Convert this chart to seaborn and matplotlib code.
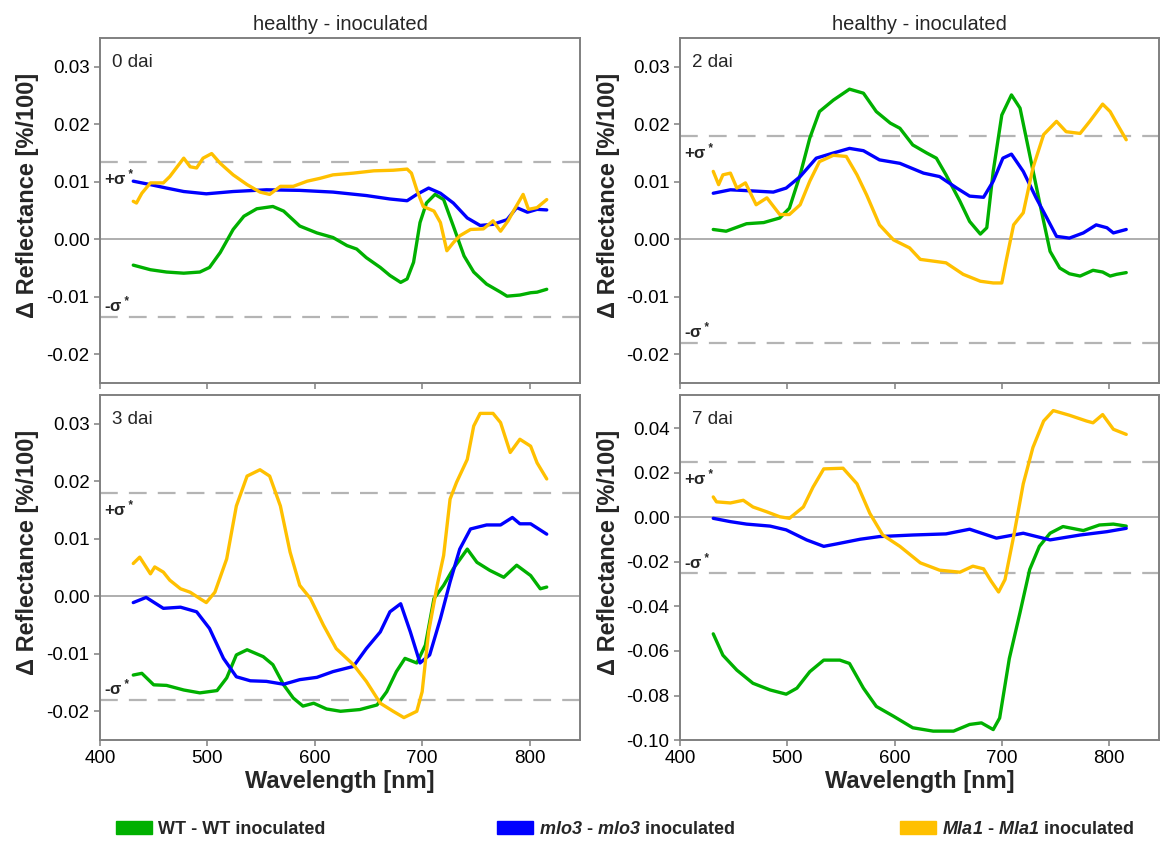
import pandas as pd
import numpy as np
import matplotlib
matplotlib.use("Agg")
import matplotlib.pyplot as plt
import seaborn as sns
from matplotlib.patches import Patch

# ---- datos (longitud de onda nm, delta reflectancia) ----
# 0 dai
wl_0_wt = [431, 447, 462, 478, 493, 502, 512, 524, 534, 546, 561, 571, 586, 602, 617, 630, 639, 648, 661, 670,
           680, 686, 692, 698, 704, 712, 720, 729, 739, 748, 760, 773, 779, 791, 801, 807, 816]
r_0_wt = [-0.0045, -0.0053, -0.0057, -0.0059, -0.0057, -0.0049, -0.0023, 0.0017, 0.0040, 0.0053, 0.0057, 0.0049,
          0.0023, 0.0011, 0.0003, -0.0011, -0.0017, -0.0032, -0.0049, -0.0063, -0.0075, -0.0069, -0.0040, 0.0029,
          0.0063, 0.0078, 0.0069, 0.0023, -0.0029, -0.0057, -0.0078, -0.0092, -0.0099, -0.0097, -0.0093, -0.0092, -0.0087]
wl_0_mlo = [431, 447, 462, 478, 499, 524, 555, 586, 617, 648, 670, 686, 695, 706, 717, 729, 742, 754, 766, 779,
            788, 798, 807, 816]
r_0_mlo = [0.0101, 0.0095, 0.0089, 0.0083, 0.0079, 0.0083, 0.0086, 0.0085, 0.0082, 0.0076, 0.0070, 0.0067, 0.0078,
           0.0089, 0.0080, 0.0063, 0.0037, 0.0024, 0.0026, 0.0034, 0.0055, 0.0047, 0.0052, 0.0051]
wl_0_mla = [431, 434, 439, 447, 459, 465, 478, 484, 490, 496, 504, 512, 524, 537, 549, 558, 568, 580, 593, 605,
            617, 636, 655, 673, 686, 690, 695, 701, 711, 717, 723, 729, 735, 745, 757, 766, 773, 780, 785, 794,
            799, 807, 816]
r_0_mla = [0.0066, 0.0063, 0.0080, 0.0098, 0.0098, 0.0109, 0.0141, 0.0126, 0.0124, 0.0141, 0.0149, 0.0132, 0.0112,
           0.0095, 0.0082, 0.0078, 0.0092, 0.0092, 0.0101, 0.0106, 0.0112, 0.0115, 0.0119, 0.0120, 0.0122, 0.0115,
           0.0086, 0.0057, 0.0049, 0.0029, -0.0020, -0.0006, 0.0006, 0.0017, 0.0018, 0.0032, 0.0014, 0.0032, 0.0049,
           0.0078, 0.0052, 0.0055, 0.0069]

# 2 dai
wl_2_wt = [431, 443, 462, 478, 493, 502, 512, 521, 530, 543, 558, 571, 583, 596, 605, 617, 630, 639, 648, 661,
           670, 680, 686, 692, 700, 709, 717, 726, 735, 745, 754, 763, 773, 785, 794, 801, 807, 816]
r_2_wt = [0.0017, 0.0014, 0.0027, 0.0029, 0.0037, 0.0054, 0.0112, 0.0176, 0.0222, 0.0242, 0.0261, 0.0254, 0.0222,
          0.0202, 0.0193, 0.0164, 0.0150, 0.0141, 0.0112, 0.0066, 0.0031, 0.0009, 0.0020, 0.0118, 0.0216, 0.0251,
          0.0228, 0.0147, 0.0066, -0.0021, -0.0050, -0.0060, -0.0064, -0.0054, -0.0057, -0.0064, -0.0061, -0.0058]
wl_2_mlo = [431, 447, 468, 487, 499, 512, 527, 543, 558, 571, 586, 605, 627, 642, 658, 670, 683, 692, 701, 709,
            720, 732, 742, 751, 763, 776, 788, 798, 804, 816]
r_2_mlo = [0.0080, 0.0086, 0.0084, 0.0082, 0.0089, 0.0109, 0.0141, 0.0150, 0.0158, 0.0154, 0.0138, 0.0132, 0.0115,
           0.0109, 0.0089, 0.0075, 0.0073, 0.0101, 0.0141, 0.0148, 0.0118, 0.0072, 0.0037, 0.0005, 0.0002, 0.0011,
           0.0025, 0.0020, 0.0011, 0.0017]
wl_2_mla = [431, 436, 440, 447, 453, 461, 471, 481, 493, 502, 512, 521, 530, 543, 555, 565, 574, 586, 599, 614,
            624, 636, 648, 664, 680, 692, 700, 704, 711, 720, 729, 739, 751, 760, 773, 782, 794, 801, 807, 816]
r_2_mla = [0.0118, 0.0095, 0.0112, 0.0115, 0.0089, 0.0098, 0.0060, 0.0072, 0.0043, 0.0043, 0.0060, 0.0101, 0.0135,
           0.0146, 0.0144, 0.0112, 0.0077, 0.0025, -0.0001, -0.0015, -0.0035, -0.0038, -0.0041, -0.0061, -0.0073,
           -0.0076, -0.0076, -0.0038, 0.0025, 0.0046, 0.0124, 0.0182, 0.0205, 0.0187, 0.0184, 0.0205, 0.0235, 0.0222,
           0.0202, 0.0173]

# 3 dai
wl_3_wt = [431, 439, 450, 462, 478, 493, 509, 518, 527, 537, 552, 561, 571, 580, 589, 599, 611, 624, 642, 658,
           667, 676, 684, 695, 703, 711, 720, 729, 742, 751, 763, 776, 788, 801, 810, 816]
r_3_wt = [-0.0137, -0.0134, -0.0154, -0.0155, -0.0163, -0.0168, -0.0164, -0.0142, -0.0102, -0.0093, -0.0105,
          -0.0119, -0.0154, -0.0177, -0.0191, -0.0186, -0.0196, -0.0200, -0.0197, -0.0189, -0.0166, -0.0131,
          -0.0108, -0.0116, -0.0085, -0.0004, 0.0019, 0.0048, 0.0082, 0.0059, 0.0045, 0.0033, 0.0054, 0.0036,
          0.0013, 0.0016]
wl_3_mlo = [431, 443, 459, 475, 490, 502, 515, 527, 540, 555, 571, 586, 602, 617, 636, 648, 661, 670, 680, 689,
            698, 707, 717, 726, 735, 745, 760, 773, 784, 791, 801, 816]
r_3_mlo = [-0.0011, -0.0002, -0.0021, -0.0019, -0.0027, -0.0056, -0.0108, -0.0140, -0.0147, -0.0148, -0.0153,
           -0.0145, -0.0141, -0.0131, -0.0122, -0.0091, -0.0062, -0.0027, -0.0013, -0.0062, -0.0116, -0.0102,
           -0.0039, 0.0025, 0.0082, 0.0117, 0.0124, 0.0124, 0.0137, 0.0126, 0.0126, 0.0108]
wl_3_mla = [431, 437, 447, 451, 459, 465, 475, 484, 493, 499, 507, 518, 527, 537, 549, 558, 568, 577, 586, 596,
            608, 620, 636, 648, 661, 673, 683, 695, 700, 706, 714, 720, 726, 732, 742, 748, 754, 766, 773, 782,
            791, 801, 807, 816]
r_3_mla = [0.0057, 0.0068, 0.0039, 0.0051, 0.0042, 0.0028, 0.0013, 0.0007, -0.0004, -0.0011, 0.0007, 0.0065,
           0.0157, 0.0209, 0.0220, 0.0209, 0.0157, 0.0077, 0.0019, -0.0004, -0.0050, -0.0091, -0.0119, -0.0148,
           -0.0186, -0.0200, -0.0211, -0.0200, -0.0166, -0.0062, 0.0019, 0.0071, 0.0169, 0.0198, 0.0238, 0.0296,
           0.0318, 0.0318, 0.0302, 0.0250, 0.0273, 0.0261, 0.0232, 0.0204]

# 7 dai
wl_7_wt = [431, 440, 453, 468, 484, 499, 509, 521, 534, 549, 558, 571, 583, 599, 617, 636, 655, 670, 681, 692,
           698, 707, 717, 726, 735, 745, 757, 776, 791, 804, 816]
r_7_wt = [-0.0523, -0.0619, -0.0686, -0.0745, -0.0775, -0.0794, -0.0767, -0.0693, -0.0641, -0.0641, -0.0656,
          -0.0767, -0.0849, -0.0893, -0.0945, -0.0960, -0.0960, -0.0930, -0.0923, -0.0953, -0.0901, -0.0634,
          -0.0427, -0.0234, -0.0130, -0.0071, -0.0041, -0.0059, -0.0034, -0.0030, -0.0039]
wl_7_mlo = [431, 447, 462, 484, 499, 518, 534, 546, 568, 586, 617, 648, 670, 695, 720, 745, 773, 798, 816]
r_7_mlo = [-0.0004, -0.0019, -0.0030, -0.0039, -0.0056, -0.0101, -0.0130, -0.0119, -0.0098, -0.0086, -0.0079,
           -0.0074, -0.0053, -0.0093, -0.0071, -0.0101, -0.0079, -0.0064, -0.0049]
wl_7_mla = [431, 434, 447, 459, 468, 481, 493, 502, 515, 524, 534, 552, 565, 577, 589, 605, 624, 642, 661, 673,
            683, 690, 697, 703, 711, 720, 729, 739, 748, 763, 779, 785, 794, 804, 816]
r_7_mla = [0.0092, 0.0070, 0.0065, 0.0077, 0.0047, 0.0025, 0.0003, -0.0004, 0.0047, 0.0136, 0.0218, 0.0221,
           0.0151, 0.0018, -0.0079, -0.0130, -0.0204, -0.0237, -0.0246, -0.0219, -0.0231, -0.0286, -0.0335,
           -0.0279, -0.0086, 0.0151, 0.0314, 0.0433, 0.0480, 0.0459, 0.0433, 0.0425, 0.0462, 0.0396, 0.0373]

paneles = ["0 dai", "2 dai", "3 dai", "7 dai"]
sigmas = [0.0135, 0.018, 0.018, 0.025]
ylims = [(-0.025, 0.035), (-0.025, 0.035), (-0.025, 0.035), (-0.10, 0.055)]
yticks = [np.arange(-0.02, 0.031, 0.01), np.arange(-0.02, 0.031, 0.01),
          np.arange(-0.02, 0.031, 0.01), np.arange(-0.10, 0.041, 0.02)]

series = {
    "0 dai": [(wl_0_wt, r_0_wt), (wl_0_mlo, r_0_mlo), (wl_0_mla, r_0_mla)],
    "2 dai": [(wl_2_wt, r_2_wt), (wl_2_mlo, r_2_mlo), (wl_2_mla, r_2_mla)],
    "3 dai": [(wl_3_wt, r_3_wt), (wl_3_mlo, r_3_mlo), (wl_3_mla, r_3_mla)],
    "7 dai": [(wl_7_wt, r_7_wt), (wl_7_mlo, r_7_mlo), (wl_7_mla, r_7_mla)],
}
genotipos = ["WT", "mlo3", "Mla1"]
colores = {"WT": "#00B000", "mlo3": "#0000FF", "Mla1": "#FFC000"}
etiquetas = ["WT - WT inoculated",
             r"$\mathit{mlo3}$ - $\mathit{mlo3}$ inoculated",
             r"$\mathit{Mla1}$ - $\mathit{Mla1}$ inoculated"]

sns.set_style("white")
plt.rcParams['font.family'] = ['Liberation Sans', 'DejaVu Sans']
plt.rcParams['axes.unicode_minus'] = False
plt.rcParams['mathtext.fontset'] = 'custom'
plt.rcParams['mathtext.it'] = 'Liberation Sans:italic:bold'
plt.rcParams['mathtext.rm'] = 'Liberation Sans:italic:bold'   # para que los digitos salgan en cursiva
plt.rcParams['mathtext.bf'] = 'Liberation Sans:bold'

fig = plt.figure(figsize=(11.61, 8.42), dpi=100)
# posiciones de los ejes [left, bottom, width, height]
pos = [[0.0861, 0.5451, 0.4135, 0.4098],
       [0.5857, 0.5451, 0.4130, 0.4098],
       [0.0861, 0.1211, 0.4135, 0.4098],
       [0.5857, 0.1211, 0.4130, 0.4098]]
gris = "#808080"

for i, p in enumerate(paneles):
    ax = fig.add_axes(pos[i])
    filas = []
    for g, (wl, r) in zip(genotipos, series[p]):
        filas.append(pd.DataFrame({"wavelength": wl, "delta": r, "genotype": g}))
    df = pd.concat(filas, ignore_index=True)

    s = sigmas[i]
    ax.axhline(0, color="#a8a8a8", lw=1.3, zorder=1)
    ax.axhline(s, color="#b4b4b4", lw=1.6, ls=(0, (8, 5)), zorder=1)
    ax.axhline(-s, color="#b4b4b4", lw=1.6, ls=(0, (8, 5)), zorder=1)

    sns.lineplot(data=df, x="wavelength", y="delta", hue="genotype", hue_order=genotipos,
                 palette=colores, estimator=None, sort=False, lw=2.4, legend=False, ax=ax, zorder=3)

    ax.set_xlim(400, 847)
    ax.set_ylim(*ylims[i])
    ax.set_xticks([400, 500, 600, 700, 800])
    ax.set_yticks(yticks[i])
    ax.yaxis.set_major_formatter(matplotlib.ticker.FormatStrFormatter("%.2f"))
    for sp in ax.spines.values():
        sp.set_visible(True)
        sp.set_color(gris)
        sp.set_linewidth(1.4)
    ax.tick_params(axis="both", direction="out", length=4, width=1.1, color=gris,
                   labelsize=13.5, labelcolor="black", left=True, bottom=True)
    if i < 2:
        ax.set_xticklabels([])
        ax.set_xlabel("")
        ax.set_title("healthy - inoculated", fontsize=14.5, pad=6)
    else:
        ax.set_xlabel("Wavelength [nm]", fontsize=17, fontweight="bold", labelpad=2)
    ax.set_ylabel("Δ Reflectance [%/100]", fontsize=17, fontweight="bold", labelpad=5)
    ax.yaxis.label.set_y(0.545)

    ax.text(0.025, 0.955, p, transform=ax.transAxes, fontsize=13.5, va="top", ha="left")
    ax.annotate("+σ$^*$", xy=(0.008, s), xycoords=ax.get_yaxis_transform(), xytext=(0, -4),
                textcoords="offset points", fontsize=12, fontweight="bold", va="top", ha="left")
    ax.annotate("-σ$^*$", xy=(0.008, -s), xycoords=ax.get_yaxis_transform(), xytext=(0, 1.5),
                textcoords="offset points", fontsize=12, fontweight="bold", va="bottom", ha="left")

# leyenda inferior (tres entradas separadas)
xs = [116 / 1161, 497 / 1161, 900 / 1161]
for g, lab, x in zip(genotipos, etiquetas, xs):
    fig.legend(handles=[Patch(facecolor=colores[g], edgecolor=colores[g])], labels=[lab],
               loc="center left", bbox_to_anchor=(x, 0.0154), frameon=False,
               handlelength=2.0, handleheight=0.7, handletextpad=0.3, borderpad=0, borderaxespad=0,
               prop={"weight": "bold", "size": 13})

fig.savefig("out.png", dpi=100)
